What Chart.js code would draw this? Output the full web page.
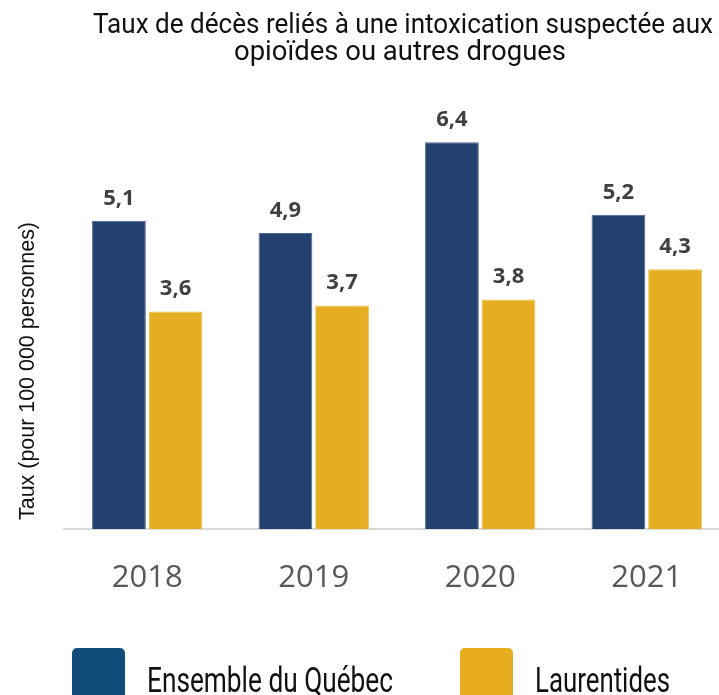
<!DOCTYPE html>
<html lang="fr">
<head>
<meta charset="utf-8">
<title>Taux de décès - opioïdes</title>
<script src="https://cdn.jsdelivr.net/npm/chart.js@4.4.1/dist/chart.umd.min.js"></script>
<style>
  html, body { margin: 0; padding: 0; background: #fff; overflow: hidden; }
  #wrap { width: 730px; height: 695px; }
</style>
</head>
<body>
<div id="wrap"><canvas id="graphique" width="730" height="695"></canvas></div>
<script>
// Données
const annees = ["2018", "2019", "2020", "2021"];
const quebec = [5.1, 4.9, 6.4, 5.2];
const laurentides = [3.6, 3.7, 3.8, 4.3];
const nomsSeries = ["Ensemble du Québec", "Laurentides"];
const titre = ["Taux de décès reliés à une intoxication suspectée aux", "opioïdes ou autres drogues"];
const titreAxeY = "Taux (pour 100 000 personnes)";

const bleu = "#23416f";
const jaune = "#e5ad20";
const bleuLegende = "#124c78";
const jauneLegende = "#e7ad1f";

// Valeurs au-dessus des barres (virgule décimale)
const etiquettes = {
  id: "etiquettes",
  afterDatasetsDraw(chart) {
    const ctx = chart.ctx;
    ctx.save();
    ctx.font = "bold 22px 'Open Sans'";
    ctx.fillStyle = "#404040";
    ctx.textAlign = "center";
    ctx.textBaseline = "alphabetic";
    chart.data.datasets.forEach((ds, i) => {
      chart.getDatasetMeta(i).data.forEach((bar, j) => {
        ctx.fillText(ds.data[j].toFixed(1).replace(".", ","), bar.x, bar.y - 16);
      });
    });
    ctx.restore();
  }
};

// Titre, titre de l'axe Y et légende dessinés à la main
const textes = {
  id: "textes",
  afterDraw(chart) {
    const ctx = chart.ctx;
    ctx.save();
    ctx.fillStyle = "#111";
    ctx.textAlign = "center";
    ctx.textBaseline = "alphabetic";
    ctx.font = "28px Roboto";
    ctx.fillText(titre[0], 403, 33, 620);
    ctx.fillText(titre[1], 400, 60, 332);

    ctx.save();
    ctx.translate(34, 371);
    ctx.rotate(-Math.PI / 2);
    ctx.font = "22px 'Liberation Sans'";
    ctx.fillText(titreAxeY, 0, 0, 298);
    ctx.restore();

    const couleurs = [bleuLegende, jauneLegende];
    const xs = [72, 460];
    const largeurs = [246, 135];
    ctx.textAlign = "left";
    ctx.font = "35px Roboto";
    nomsSeries.forEach((nom, i) => {
      ctx.fillStyle = couleurs[i];
      ctx.beginPath();
      ctx.roundRect(xs[i], 648, 53, 60, 5);
      ctx.fill();
      ctx.fillStyle = "#111";
      ctx.fillText(nom, xs[i] + 75, 692, largeurs[i]);
    });
    ctx.restore();
  }
};

new Chart(document.getElementById("graphique"), {
  type: "bar",
  data: {
    labels: annees,
    datasets: [
      {
        label: nomsSeries[0],
        data: quebec,
        backgroundColor: bleu,
        borderColor: "#4a6794",
        borderWidth: 1,
        categoryPercentage: 0.68,
        barPercentage: 0.95
      },
      {
        label: nomsSeries[1],
        data: laurentides,
        backgroundColor: jaune,
        borderColor: "#f0c050",
        borderWidth: 1,
        categoryPercentage: 0.68,
        barPercentage: 0.95
      }
    ]
  },
  options: {
    responsive: false,
    animation: false,
    layout: {
      padding: { left: 64, right: 0, top: 100, bottom: 76 }
    },
    plugins: {
      legend: { display: false },
      tooltip: { enabled: false }
    },
    scales: {
      x: {
        grid: { display: false },
        border: { color: "#d9d9d9", width: 2 },
        ticks: {
          color: "#595959",
          font: { family: "'Open Sans'", size: 31 },
          padding: 23
        },
        afterFit(scale) {
          scale.height = 90;
        }
      },
      y: {
        display: false,
        min: 0,
        max: 7.1
      }
    }
  },
  plugins: [etiquettes, textes]
});
</script>
</body>
</html>
